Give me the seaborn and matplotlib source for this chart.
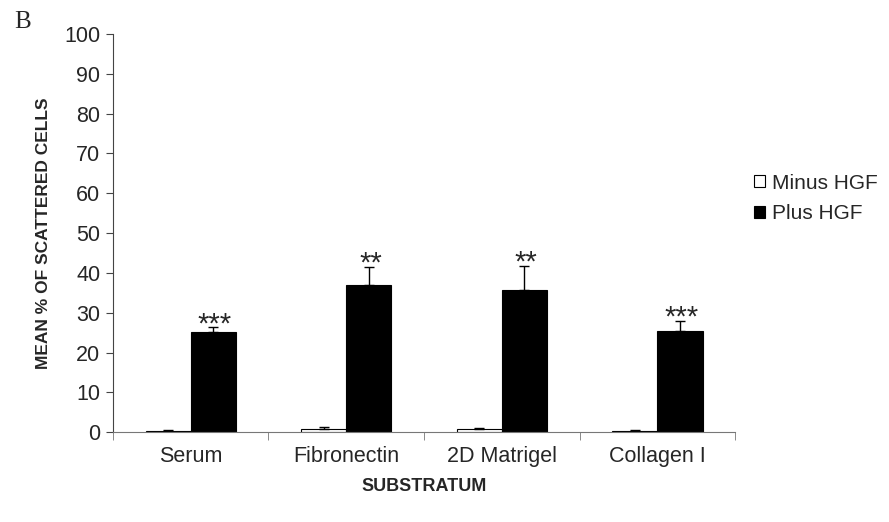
import pandas as pd
import numpy as np
import matplotlib
matplotlib.use('Agg')
import matplotlib.pyplot as plt
import seaborn as sns

# Data
substrata = ['Serum', 'Fibronectin', '2D Matrigel', 'Collagen I']
minus_hgf = [0.3, 0.9, 0.7, 0.4]
minus_err = [0.2, 0.5, 0.3, 0.2]
plus_hgf = [25.1, 37.0, 35.6, 25.4]
plus_err = [1.2, 4.5, 6.2, 2.6]
stars = ['***', '**', '**', '***']

sns.set_style('white')
plt.rcParams['font.family'] = ['Liberation Sans', 'DejaVu Sans']

df = pd.DataFrame({
    'Substratum': substrata * 2,
    'Value': minus_hgf + plus_hgf,
    'Group': ['Minus HGF'] * 4 + ['Plus HGF'] * 4,
})

fig = plt.figure(figsize=(8.89, 5.22), dpi=100)
ax = fig.add_axes([0.127, 0.172, 0.700, 0.763])

sns.barplot(data=df, x='Substratum', y='Value', hue='Group',
            palette={'Minus HGF': 'white', 'Plus HGF': 'black'},
            edgecolor='black', linewidth=0.8, width=0.58, errorbar=None, ax=ax)

# upward-only error bars and significance stars
for cont, vals, errs in zip(ax.containers, [minus_hgf, plus_hgf], [minus_err, plus_err]):
    xs = [p.get_x() + p.get_width() / 2 for p in cont.patches]
    ax.errorbar(xs, vals, yerr=[np.zeros(len(vals)), errs], fmt='none',
                ecolor='black', elinewidth=1, capsize=3.5, capthick=1)
    if vals is plus_hgf:
        for x, v, e, s in zip(xs, vals, errs, stars):
            ax.text(x + 0.01, v + e - 1.2, s, ha='center', va='baseline', fontsize=21)

ax.set_ylim(0, 100)
ax.set_xlim(-0.5, 3.5)
ax.set_yticks(range(0, 101, 10))
ax.tick_params(axis='y', labelsize=15.5, length=5, direction='out', left=True,
               color='#444444', pad=4)
ax.set_xticks(range(4))
ax.set_xticklabels(substrata)
ax.set_xticks(np.arange(-0.5, 4, 1), minor=True)
ax.tick_params(axis='x', which='major', length=0, labelsize=15.5, pad=10)
ax.tick_params(axis='x', which='minor', length=6, direction='out', bottom=True, color='#777777')

for side in ['top', 'right']:
    ax.spines[side].set_visible(False)
ax.spines['left'].set_color('#444444')
ax.spines['bottom'].set_color('#777777')

ax.set_ylabel('MEAN % OF SCATTERED CELLS', fontsize=12.5, fontweight='bold')
ax.yaxis.set_label_coords(-0.1, 0.5)
ax.set_xlabel('SUBSTRATUM', fontsize=13, fontweight='bold')
ax.xaxis.set_label_coords(0.5, -0.115)

ax.legend(loc='upper left', bbox_to_anchor=(1.017, 0.67), frameon=False, fontsize=15,
          handlelength=0.5, handleheight=0.5, handletextpad=0.35, labelspacing=0.55,
          borderaxespad=0)

fig.text(0.016, 0.957, 'B', family='Liberation Serif', fontsize=18, va='center')

fig.savefig('out.png', dpi=100)
